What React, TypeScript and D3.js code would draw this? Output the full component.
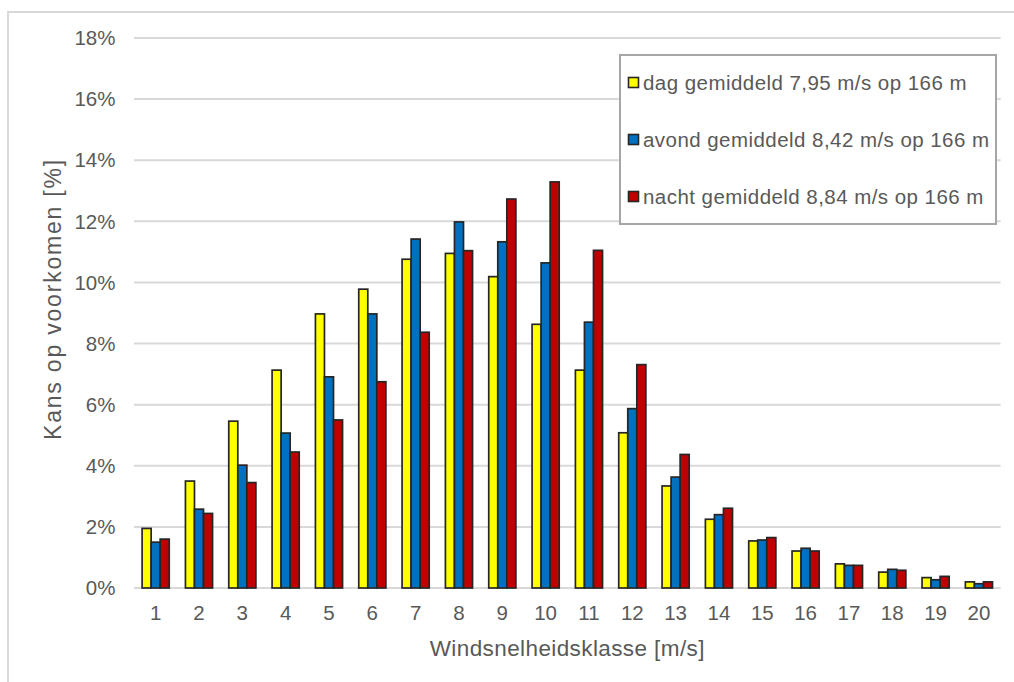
import React from "react";
import * as d3 from "d3";

const categories = ["1","2","3","4","5","6","7","8","9","10","11","12","13","14","15","16","17","18","19","20"];
const seriesNames = [
  "dag gemiddeld 7,95 m/s op 166 m",
  "avond gemiddeld 8,42 m/s op 166 m",
  "nacht gemiddeld 8,84 m/s op 166 m",
];
const dag = [1.95, 3.5, 5.46, 7.13, 8.97, 9.78, 10.76, 10.95, 10.19, 8.63, 7.13, 5.08, 3.34, 2.25, 1.54, 1.21, 0.79, 0.52, 0.34, 0.2];
const avond = [1.5, 2.58, 4.02, 5.07, 6.91, 8.97, 11.42, 11.98, 11.33, 10.64, 8.7, 5.87, 3.63, 2.4, 1.57, 1.3, 0.74, 0.61, 0.27, 0.14];
const nacht = [1.6, 2.44, 3.45, 4.45, 5.5, 6.75, 8.37, 11.04, 12.73, 13.29, 11.05, 7.31, 4.37, 2.61, 1.65, 1.21, 0.74, 0.58, 0.38, 0.2];
const yTicks = [0, 2, 4, 6, 8, 10, 12, 14, 16, 18];
const colors = ["#FFFF00", "#0070C0", "#C00000"];

export default function App() {
  const W = 1014, H = 682;
  const left = 134, right = 1000.6, top = 38, bottom = 588;
  const x = d3.scaleBand<string>().domain(categories).range([left, right]).padding(0);
  const step = x.step();
  const gap = step * 0.187;
  const inner = d3.scaleBand<number>().domain([0, 1, 2]).range([gap, step - gap]).padding(0);
  const y = d3.scaleLinear().domain([0, 18]).range([bottom, top]);
  const series = [dag, avond, nacht];
  const font = "'Liberation Sans', Arial, sans-serif";
  const textColor = "#595959";

  return (
    <svg width={W} height={H} style={{ position: "absolute", left: 0, top: 0, background: "#fff" }} fontFamily={font}>
      <rect x={8} y={12} width={1100} height={800} fill="#fff" stroke="#d9d9d9" strokeWidth={2} />
      {yTicks.map((t) => (
        <g key={t}>
          <line x1={left} x2={right} y1={y(t)} y2={y(t)} stroke="#d9d9d9" strokeWidth={2} />
          <text x={115.5} y={y(t)} dy="0.35em" textAnchor="end" fontSize={20.5} fill={textColor}>{t}%</text>
        </g>
      ))}
      {categories.map((c, i) => (
        <g key={c}>
          {series.map((s, k) => (
            <rect
              key={k}
              x={(x(c) as number) + (inner(k) as number)}
              y={y(s[i])}
              width={inner.bandwidth()}
              height={y(0) - y(s[i])}
              fill={colors[k]}
              stroke="#262626"
              strokeWidth={1.7}
            />
          ))}
          <text x={(x(c) as number) + step / 2} y={620} textAnchor="middle" fontSize={20.5} fill={textColor}>{c}</text>
        </g>
      ))}
      <text x={(left + right) / 2} y={656} textAnchor="middle" fontSize={22.5} letterSpacing={0.4} fill={textColor}>Windsnelheidsklasse [m/s]</text>
      <text transform={`translate(61, ${(top + bottom) / 2 - 14}) rotate(-90)`} textAnchor="middle" fontSize={23} letterSpacing={1.8} fill={textColor}>Kans op voorkomen [%]</text>
      <g>
        <rect x={620} y={55} width={376} height={169} fill="#fff" stroke="#a6a6a6" strokeWidth={2} />
        {seriesNames.map((n, k) => {
          const cy = 83 + k * 57;
          return (
            <g key={n}>
              <rect x={628.5} y={cy - 5.5} width={10} height={10} fill={colors[k]} stroke="#262626" strokeWidth={1.6} />
              <text x={643} y={cy + 7} fontSize={20.5} letterSpacing={0.45} fill={textColor}>{n}</text>
            </g>
          );
        })}
      </g>
    </svg>
  );
}
